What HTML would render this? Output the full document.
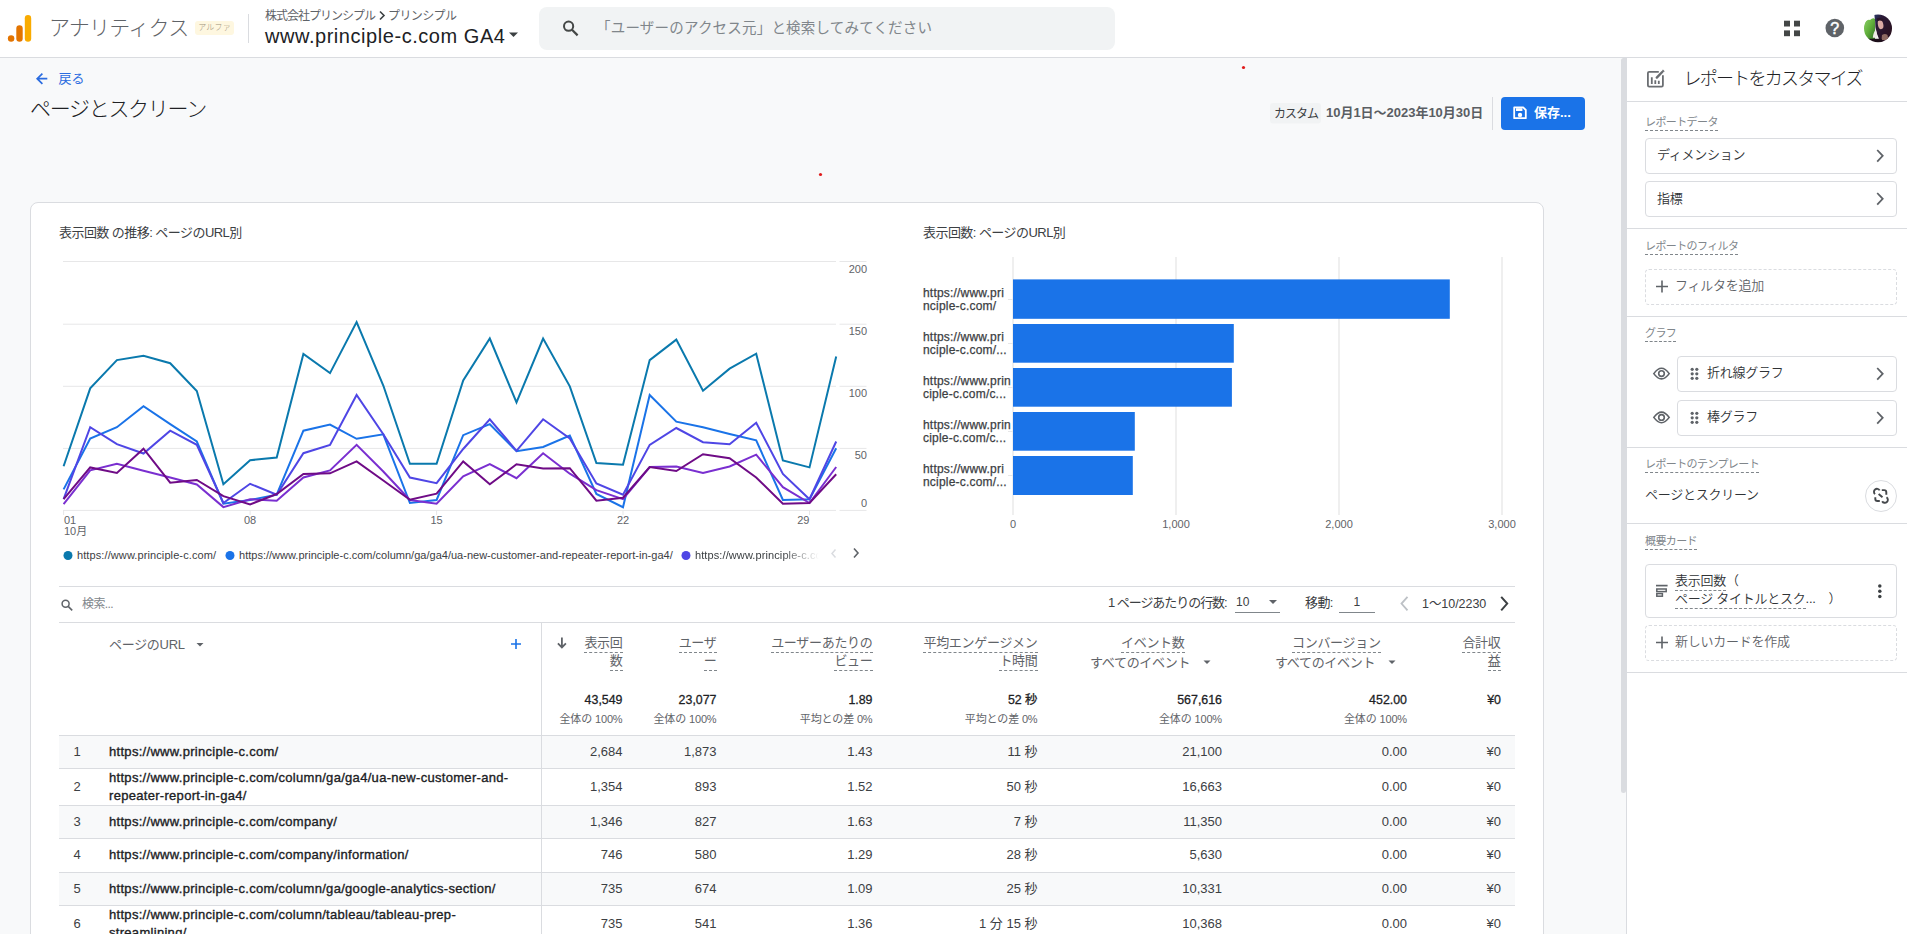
<!DOCTYPE html>
<html lang="ja">
<head>
<meta charset="utf-8">
<title>ページとスクリーン</title>
<style>
*{box-sizing:border-box;margin:0;padding:0}
html,body{width:1907px;height:934px;overflow:hidden;background:#f8f9fa;
  font-family:"Liberation Sans","Noto Sans CJK JP",sans-serif;color:#202124;font-size:13px;line-height:1}
.abs{position:absolute;white-space:nowrap}
#hdr{position:absolute;left:0;top:0;width:1907px;height:58px;background:#fff;border-bottom:1px solid #dadce0}
#main{position:absolute;left:0;top:58px;width:1627px;height:876px;background:#f8f9fa;overflow:hidden}
#panel{position:absolute;left:1626px;top:58px;width:281px;height:876px;background:#fff;border-left:1px solid #dadce0}
#card{position:absolute;left:30px;top:202px;width:1514px;height:760px;background:#fff;border:1px solid #dadce0;border-radius:8px}
svg{position:absolute;left:0;top:0;overflow:visible}
.t{position:absolute;white-space:nowrap}

#tbl .ln{position:absolute;left:59px;width:1456px;height:1px;background:#dadce0}
#tbl .row{position:absolute;left:59px;width:1456px;border-top:1px solid #dadce0}
#tbl .vl{position:absolute;left:541px;top:622px;width:1px;height:320px;background:#dadce0}
.num{font-size:13px;color:#3c4043;line-height:16px}
.url{font-size:13px;color:#202124;line-height:16px;font-weight:normal;letter-spacing:0.3px;-webkit-text-stroke:0.35px #202124}
.val{font-size:13px;color:#3c4043;line-height:16px;text-align:right}
.tot{font-size:12.4px;color:#202124;line-height:16px;text-align:right;font-weight:normal;letter-spacing:0;-webkit-text-stroke:0.28px #202124}
.sub{font-size:11px;color:#5f6368;line-height:14px;text-align:right;letter-spacing:-0.15px}
.hd{font-size:13px;color:#5f6368;line-height:17px;letter-spacing:-0.3px}
.u{border-bottom:1px dashed #80868b;padding-bottom:1px}
.r{text-align:right}
.pl{position:absolute;left:1627px;width:280px;height:1px;background:#dadce0}
.bx{position:absolute;border:1px solid #dadce0;border-radius:4px;background:#fff}
.bx.ds{border-style:dashed}
.lb{font-size:11px;color:#80868b;line-height:14px;padding-bottom:1px;letter-spacing:-0.6px;border-bottom:1px dashed #80868b}
.it{font-size:13px;font-weight:350;color:#303336;line-height:18px;letter-spacing:-0.25px}
.u2{border-bottom:1px dashed #80868b;padding-bottom:2px}
</style>
</head>
<body>
<!--HEADER-->
<div id="hdr">
</div>
<svg width="1907" height="58" viewBox="0 0 1907 58">
  <!-- GA logo -->
  <rect x="24.8" y="15" width="6.4" height="26.7" rx="3.2" fill="#f9ab00"/>
  <rect x="16.3" y="25.2" width="6.4" height="16.5" rx="3.2" fill="#e37400"/>
  <circle cx="11.1" cy="38.4" r="3.25" fill="#e37400"/>
  <!-- divider -->
  <rect x="248" y="14" width="1" height="29" fill="#dadce0"/>
  <!-- caret -->
  <path d="M509 32.5 l4.5 4.5 l4.5 -4.5z" fill="#3c4043"/>
  <!-- breadcrumb chevron -->
  <path d="M380 11.5 l4 4 l-4 4" fill="none" stroke="#3c4043" stroke-width="1.6"/>
  <!-- search box -->
  <rect x="539" y="7" width="576" height="43" rx="8" fill="#f1f3f4"/>
  <circle cx="568.6" cy="26.2" r="4.6" fill="none" stroke="#444746" stroke-width="2"/>
  <path d="M572 29.8 l5.6 5.6" stroke="#444746" stroke-width="2.2" stroke-linecap="butt"/>
  <!-- apps grid -->
  <g fill="#444746">
    <rect x="1784" y="20.7" width="6" height="5.8"/><rect x="1794" y="20.7" width="6" height="5.8"/>
    <rect x="1784" y="30.4" width="6" height="5.8"/><rect x="1794" y="30.4" width="6" height="5.8"/>
  </g>
  <!-- help -->
  <circle cx="1834.8" cy="28" r="9.3" fill="#5f6368"/>
  <text x="1834.8" y="33.6" text-anchor="middle" font-family="Liberation Sans, sans-serif" font-size="16" fill="#fff" stroke="#fff" stroke-width="0.5">?</text>
  <!-- avatar -->
  <defs><clipPath id="av"><circle cx="1878" cy="28.4" r="14"/></clipPath>
  <linearGradient id="avg" x1="0" x2="1" y1="0" y2="1"><stop offset="0" stop-color="#8fd06a"/><stop offset="0.5" stop-color="#5fae3a"/><stop offset="1" stop-color="#2f6a24"/></linearGradient>
  <linearGradient id="avh" x1="0" x2="1" y1="0" y2="1"><stop offset="0" stop-color="#2d3a6a"/><stop offset="0.25" stop-color="#2a1a38"/><stop offset="1" stop-color="#2a0f18"/></linearGradient></defs>
  <g clip-path="url(#av)">
    <rect x="1864" y="14" width="28" height="29" fill="#ffffff"/>
    <path d="M1864 40 V24 q3 -5 6 -4 q3 -3 5 -1 V40z" fill="url(#avg)"/>
    <path d="M1874.3 14 H1892 V43 H1880 q-1 -5 -3.5 -10 q-1.6 -6 -1.4 -12 q-0.6 -4 -0.8 -7z" fill="url(#avh)"/>
    <ellipse cx="1880.6" cy="24.6" rx="2.7" ry="4.6" fill="#d9aaa4" transform="rotate(-12 1880.6 24.6)"/>
    <path d="M1876.6 18.5 q3 -1.4 6.6 0.6 l0 2.4 q-3 -1.6 -6 -0.4z" fill="#2a1428"/>
    <path d="M1872.8 37.8 q0.4 -5.5 3.2 -8.2 q1 3 1.6 8.2z" fill="#eeeae6"/>
    <path d="M1882 35 q3 -2 5.5 0 l1 5 h-7z" fill="#8d6a62"/>
    <path d="M1864 38.8 h17.6 l1.4 3.7 H1864z" fill="#1d0f1a"/>
  </g>
</svg>
<div class="t" style="left:49px;top:15px;font-size:21px;font-weight:300;color:#5f6368;letter-spacing:-0.75px;line-height:26px">アナリティクス</div>
<div class="t" style="left:195px;top:21px;width:39px;height:14px;background:#fef7e0;border-radius:3px;font-size:8px;font-weight:300;color:#a09078;text-align:center;line-height:13px;letter-spacing:0.2px">アルファ</div>
<div class="t" style="left:265px;top:8px;font-size:12px;color:#5f6368;line-height:16px;letter-spacing:-1px">株式会社プリンシプル</div>
<div class="t" style="left:388px;top:8px;font-size:12px;color:#5f6368;line-height:16px;letter-spacing:-0.6px">プリンシプル</div>
<div class="t" style="left:265px;top:23.5px;font-size:20px;color:#202124;line-height:24px;letter-spacing:0.55px">www.principle-c.com GA4</div>
<div class="t" style="left:596px;top:18px;font-size:14.5px;color:#80868b;line-height:20px;letter-spacing:0.2px">「ユーザーのアクセス元」と検索してみてください</div>
<!--MAIN-->
<div id="main">
</div>
<svg width="1627" height="200" viewBox="0 0 1627 200">
  <!-- back arrow -->
  <path d="M47.3 78.7 H37.6 M42.4 73.6 L37.2 78.7 L42.4 83.8" fill="none" stroke="#2b6ce0" stroke-width="1.7"/>
  <!-- red dots -->
  <circle cx="1243.5" cy="67.5" r="1.6" fill="#e01b1b"/>
  <circle cx="820.5" cy="174.5" r="1.6" fill="#e01b1b"/>
  <!-- date chip -->
  <rect x="1270" y="103" width="51" height="20.5" rx="3" fill="#f1f3f4"/>
  <rect x="1492" y="97" width="1" height="33" fill="#dadce0"/>
  <!-- save button -->
  <rect x="1501" y="97" width="84" height="33" rx="4" fill="#1a73e8"/>
  <path d="M1514.2 107.4 h9 l2.6 2.6 v8.2 h-11.6z" fill="none" stroke="#fff" stroke-width="1.8" stroke-linejoin="round"/>
  <rect x="1516" y="108.2" width="6.4" height="2.8" fill="#fff"/>
  <circle cx="1520" cy="114.9" r="2.2" fill="#fff"/>
</svg>
<div class="t" style="left:58.5px;top:71px;font-size:13px;color:#2b6ce0;line-height:16px">戻る</div>
<div class="t" style="left:30px;top:96px;font-size:21px;font-weight:300;color:#202124;line-height:26px;letter-spacing:-1.3px">ページとスクリーン</div>
<div class="t" style="left:1274px;top:106px;font-size:12px;color:#3c4043;line-height:16px;letter-spacing:-1px">カスタム</div>
<div class="t" style="left:1326px;top:105px;font-size:13px;font-weight:bold;color:#5a5e63;line-height:16px;letter-spacing:-0.02px">10月1日～2023年10月30日</div>
<div class="t" style="left:1534px;top:105px;font-size:13px;font-weight:bold;color:#fff;line-height:16px">保存...</div>
<div id="card"></div>
<!--CHARTS-->
<svg width="1560" height="934" viewBox="0 0 1560 934" font-family="Liberation Sans, Noto Sans CJK JP, sans-serif" font-size="11" fill="#5f6368">
<rect x="63" y="261.0" width="773" height="1" fill="#e7e7e8"/><rect x="839.5" y="261.0" width="27" height="1" fill="#e7e7e8"/>
<rect x="63" y="323.7" width="773" height="1" fill="#e7e7e8"/><rect x="839.5" y="323.7" width="27" height="1" fill="#e7e7e8"/>
<rect x="63" y="385.8" width="773" height="1" fill="#e7e7e8"/><rect x="839.5" y="385.8" width="27" height="1" fill="#e7e7e8"/>
<rect x="63" y="447.9" width="773" height="1" fill="#e7e7e8"/><rect x="839.5" y="447.9" width="27" height="1" fill="#e7e7e8"/>
<rect x="63" y="509.9" width="773" height="1" fill="#e7e7e8"/><rect x="839.5" y="509.9" width="27" height="1" fill="#e7e7e8"/>
<rect x="63.1" y="510" width="1" height="5" fill="#e7e7e8"/>
<rect x="249.6" y="510" width="1" height="5" fill="#e7e7e8"/>
<rect x="436.1" y="510" width="1" height="5" fill="#e7e7e8"/>
<rect x="622.5" y="510" width="1" height="5" fill="#e7e7e8"/>
<rect x="809.0" y="510" width="1" height="5" fill="#e7e7e8"/>
<polyline points="63.6,466.2 90.2,388.4 116.9,360.1 143.5,355.7 170.2,363.2 196.8,391.0 223.4,484.2 250.1,460.2 276.7,457.6 303.4,354.0 330.0,373.1 356.6,322.0 383.3,385.5 409.9,463.8 436.6,463.8 463.2,380.4 489.8,338.5 516.5,402.4 543.1,338.5 569.8,386.3 596.4,463.0 623.0,464.7 649.7,360.1 676.3,339.6 703.0,390.7 729.6,368.7 756.2,353.7 782.9,460.5 809.5,467.4 836.2,356.4" fill="none" stroke="#0a79ad" stroke-width="2" stroke-linejoin="miter"/>
<polyline points="63.6,489.4 90.2,438.5 116.9,427.2 143.5,406.2 170.2,424.2 196.8,441.5 223.4,503.7 250.1,500.0 276.7,494.7 303.4,430.7 330.0,424.5 356.6,438.8 383.3,434.3 409.9,503.0 436.6,500.0 463.2,435.2 489.8,424.2 516.5,451.2 543.1,447.0 569.8,435.5 596.4,494.0 623.0,507.2 649.7,395.0 676.3,421.7 703.0,427.2 729.6,434.0 756.2,440.4 782.9,500.0 809.5,499.2 836.2,448.2" fill="none" stroke="#1a73e8" stroke-width="2" stroke-linejoin="miter"/>
<polyline points="63.6,499.2 90.2,427.2 116.9,444.2 143.5,453.5 170.2,430.7 196.8,444.8 223.4,503.0 250.1,483.8 276.7,494.7 303.4,453.2 330.0,444.9 356.6,395.0 383.3,434.3 409.9,477.5 436.6,483.2 463.2,449.0 489.8,419.3 516.5,450.8 543.1,419.3 569.8,438.5 596.4,483.5 623.0,494.7 649.7,444.9 676.3,428.0 703.0,442.2 729.6,444.2 756.2,422.7 782.9,474.0 809.5,499.2 836.2,441.5" fill="none" stroke="#4f46e5" stroke-width="2" stroke-linejoin="miter"/>
<polyline points="63.6,504.1 90.2,470.4 116.9,463.7 143.5,470.7 170.2,477.5 196.8,484.5 223.4,507.1 250.1,499.2 276.7,500.7 303.4,477.5 330.0,470.4 356.6,444.9 383.3,471.5 409.9,500.0 436.6,503.7 463.2,476.4 489.8,464.0 516.5,478.2 543.1,453.2 569.8,473.7 596.4,490.2 623.0,499.2 649.7,467.0 676.3,466.5 703.0,473.0 729.6,466.5 756.2,454.7 782.9,487.2 809.5,503.0 836.2,467.0" fill="none" stroke="#7a2fd0" stroke-width="2" stroke-linejoin="miter"/>
<polyline points="63.6,499.2 90.2,467.4 116.9,473.0 143.5,448.7 170.2,482.7 196.8,480.0 223.4,496.2 250.1,504.4 276.7,494.0 303.4,474.0 330.0,473.3 356.6,461.4 383.3,480.5 409.9,499.7 436.6,493.7 463.2,461.4 489.8,484.2 516.5,464.3 543.1,468.5 569.8,468.2 596.4,500.7 623.0,497.7 649.7,467.0 676.3,471.0 703.0,454.2 729.6,458.3 756.2,477.5 782.9,503.7 809.5,503.0 836.2,474.2" fill="none" stroke="#6f0b86" stroke-width="2" stroke-linejoin="miter"/>
<g><text x="867" y="272.8" text-anchor="end">200</text><text x="867" y="334.9" text-anchor="end">150</text><text x="867" y="397.3" text-anchor="end">100</text><text x="867" y="459.0" text-anchor="end">50</text><text x="867" y="507.2" text-anchor="end">0</text></g>
<g><text x="64" y="524.3">01</text><text x="64" y="534.7">10月</text><text x="250.1" y="524.3" text-anchor="middle">08</text><text x="436.6" y="524.3" text-anchor="middle">15</text><text x="623" y="524.3" text-anchor="middle">22</text><text x="809.5" y="524.3" text-anchor="end">29</text></g>
<!-- legend -->
<circle cx="68" cy="555.5" r="4.5" fill="#0a79ad"/><circle cx="230" cy="555.5" r="4.5" fill="#1a73e8"/><circle cx="686" cy="555.5" r="4.5" fill="#4f46e5"/>
<path d="M835.5 549.5 l-3.5 4 l3.5 4" fill="none" stroke="#dadce0" stroke-width="1.5"/>
<path d="M854 548.5 l4 4.5 l-4 4.5" fill="none" stroke="#5f6368" stroke-width="1.6"/>
<!-- bar chart -->
<g fill="#e0e0e0"><rect x="1012.5" y="257" width="1" height="258"/><rect x="1175.5" y="257" width="1" height="258"/><rect x="1338.5" y="257" width="1" height="258"/><rect x="1501.5" y="257" width="1" height="258"/></g>
<g fill="#e7e7e8"><rect x="1008" y="299" width="5" height="1"/><rect x="1008" y="343" width="5" height="1"/><rect x="1008" y="387" width="5" height="1"/><rect x="1008" y="431" width="5" height="1"/><rect x="1008" y="475" width="5" height="1"/></g>
<g fill="#1a73e8"><rect x="1013" y="279.4" width="436.8" height="39.4"/><rect x="1013" y="324" width="220.8" height="38.7"/><rect x="1013" y="368" width="218.9" height="38.7"/><rect x="1013" y="412" width="121.8" height="38.7"/><rect x="1013" y="456" width="119.8" height="39"/></g>
<g text-anchor="middle"><text x="1013" y="528">0</text><text x="1176" y="528">1,000</text><text x="1339" y="528">2,000</text><text x="1502" y="528">3,000</text></g>
<g font-size="12" fill="#3c4043" style="letter-spacing:0.2px" stroke="#3c4043" stroke-width="0.25">
<text x="923" y="296.5">https://www.pri</text><text x="923" y="309.5">nciple-c.com/</text>
<text x="923" y="340.5">https://www.pri</text><text x="923" y="353.5">nciple-c.com/...</text>
<text x="923" y="384.5">https://www.prin</text><text x="923" y="397.5">ciple-c.com/c...</text>
<text x="923" y="428.5">https://www.prin</text><text x="923" y="441.5">ciple-c.com/c...</text>
<text x="923" y="472.5">https://www.pri</text><text x="923" y="485.5">nciple-c.com/...</text>
</g>
</svg>
<div class="t" style="left:59px;top:225px;font-size:13px;color:#3c4043;line-height:16px;letter-spacing:-0.55px">表示回数 の推移: ページのURL別</div>
<div class="t" style="left:923px;top:225px;font-size:13px;color:#3c4043;line-height:16px;letter-spacing:-0.55px">表示回数: ページのURL別</div>
<div class="t" style="left:77px;top:549px;font-size:11px;color:#3c4043;line-height:13px;letter-spacing:0.1px">https://www.principle-c.com/</div>
<div class="t" style="left:239px;top:549px;font-size:11px;color:#3c4043;line-height:13px;letter-spacing:0.01px">https://www.principle-c.com/column/ga/ga4/ua-new-customer-and-repeater-report-in-ga4/</div>
<div class="t" style="left:695px;top:549px;font-size:11px;color:#3c4043;line-height:13px;letter-spacing:0.1px;width:124px;overflow:hidden;-webkit-mask-image:linear-gradient(90deg,#000 70%,transparent 100%)">https://www.principle-c.com/c</div>
<!--/CHARTS-->
<!--TABLE-->
<div id="tbl">
<div class="ln" style="top:586px"></div><div class="ln" style="top:622px"></div>
<div class="row" style="top:735px;height:33px;background:#f8f9fa"></div>
<div class="t num" style="left:67px;width:20px;top:744.0px;text-align:center">1</div>
<div class="t url" style="left:109px;top:744.0px">https://www.principle-c.com/</div>
<div class="t val" style="left:502.5px;width:120px;top:744.0px">2,684</div>
<div class="t val" style="left:596.5px;width:120px;top:744.0px">1,873</div>
<div class="t val" style="left:752.5px;width:120px;top:744.0px">1.43</div>
<div class="t val" style="left:917.5px;width:120px;top:744.0px">11 秒</div>
<div class="t val" style="left:1102px;width:120px;top:744.0px">21,100</div>
<div class="t val" style="left:1287px;width:120px;top:744.0px">0.00</div>
<div class="t val" style="left:1381px;width:120px;top:744.0px">¥0</div>
<div class="row" style="top:768px;height:37px;background:#fff"></div>
<div class="t num" style="left:67px;width:20px;top:779.0px;text-align:center">2</div>
<div class="t url" style="left:109px;top:770.0px">https://www.principle-c.com/column/ga/ga4/ua-new-customer-and-</div>
<div class="t url" style="left:109px;top:788.0px">repeater-report-in-ga4/</div>
<div class="t val" style="left:502.5px;width:120px;top:779.0px">1,354</div>
<div class="t val" style="left:596.5px;width:120px;top:779.0px">893</div>
<div class="t val" style="left:752.5px;width:120px;top:779.0px">1.52</div>
<div class="t val" style="left:917.5px;width:120px;top:779.0px">50 秒</div>
<div class="t val" style="left:1102px;width:120px;top:779.0px">16,663</div>
<div class="t val" style="left:1287px;width:120px;top:779.0px">0.00</div>
<div class="t val" style="left:1381px;width:120px;top:779.0px">¥0</div>
<div class="row" style="top:805px;height:33px;background:#f8f9fa"></div>
<div class="t num" style="left:67px;width:20px;top:814.0px;text-align:center">3</div>
<div class="t url" style="left:109px;top:814.0px">https://www.principle-c.com/company/</div>
<div class="t val" style="left:502.5px;width:120px;top:814.0px">1,346</div>
<div class="t val" style="left:596.5px;width:120px;top:814.0px">827</div>
<div class="t val" style="left:752.5px;width:120px;top:814.0px">1.63</div>
<div class="t val" style="left:917.5px;width:120px;top:814.0px">7 秒</div>
<div class="t val" style="left:1102px;width:120px;top:814.0px">11,350</div>
<div class="t val" style="left:1287px;width:120px;top:814.0px">0.00</div>
<div class="t val" style="left:1381px;width:120px;top:814.0px">¥0</div>
<div class="row" style="top:838px;height:34px;background:#fff"></div>
<div class="t num" style="left:67px;width:20px;top:846.7px;text-align:center">4</div>
<div class="t url" style="left:109px;top:846.7px">https://www.principle-c.com/company/information/</div>
<div class="t val" style="left:502.5px;width:120px;top:846.7px">746</div>
<div class="t val" style="left:596.5px;width:120px;top:846.7px">580</div>
<div class="t val" style="left:752.5px;width:120px;top:846.7px">1.29</div>
<div class="t val" style="left:917.5px;width:120px;top:846.7px">28 秒</div>
<div class="t val" style="left:1102px;width:120px;top:846.7px">5,630</div>
<div class="t val" style="left:1287px;width:120px;top:846.7px">0.00</div>
<div class="t val" style="left:1381px;width:120px;top:846.7px">¥0</div>
<div class="row" style="top:872px;height:33px;background:#f8f9fa"></div>
<div class="t num" style="left:67px;width:20px;top:881.0px;text-align:center">5</div>
<div class="t url" style="left:109px;top:881.0px">https://www.principle-c.com/column/ga/google-analytics-section/</div>
<div class="t val" style="left:502.5px;width:120px;top:881.0px">735</div>
<div class="t val" style="left:596.5px;width:120px;top:881.0px">674</div>
<div class="t val" style="left:752.5px;width:120px;top:881.0px">1.09</div>
<div class="t val" style="left:917.5px;width:120px;top:881.0px">25 秒</div>
<div class="t val" style="left:1102px;width:120px;top:881.0px">10,331</div>
<div class="t val" style="left:1287px;width:120px;top:881.0px">0.00</div>
<div class="t val" style="left:1381px;width:120px;top:881.0px">¥0</div>
<div class="row" style="top:905px;height:37px;background:#fff"></div>
<div class="t num" style="left:67px;width:20px;top:916.0px;text-align:center">6</div>
<div class="t url" style="left:109px;top:907.0px">https://www.principle-c.com/column/tableau/tableau-prep-</div>
<div class="t url" style="left:109px;top:925.0px">streamlining/</div>
<div class="t val" style="left:502.5px;width:120px;top:916.0px">735</div>
<div class="t val" style="left:596.5px;width:120px;top:916.0px">541</div>
<div class="t val" style="left:752.5px;width:120px;top:916.0px">1.36</div>
<div class="t val" style="left:917.5px;width:120px;top:916.0px">1 分 15 秒</div>
<div class="t val" style="left:1102px;width:120px;top:916.0px">10,368</div>
<div class="t val" style="left:1287px;width:120px;top:916.0px">0.00</div>
<div class="t val" style="left:1381px;width:120px;top:916.0px">¥0</div>
<div class="vl"></div>
<div class="t tot" style="left:502.5px;width:120px;top:692px">43,549</div>
<div class="t sub" style="left:492.5px;width:130px;top:712px">全体の 100%</div>
<div class="t tot" style="left:596.5px;width:120px;top:692px">23,077</div>
<div class="t sub" style="left:586.5px;width:130px;top:712px">全体の 100%</div>
<div class="t tot" style="left:752.5px;width:120px;top:692px">1.89</div>
<div class="t sub" style="left:742.5px;width:130px;top:712px">平均との差 0%</div>
<div class="t tot" style="left:917.5px;width:120px;top:692px">52 秒</div>
<div class="t sub" style="left:907.5px;width:130px;top:712px">平均との差 0%</div>
<div class="t tot" style="left:1102px;width:120px;top:692px">567,616</div>
<div class="t sub" style="left:1092px;width:130px;top:712px">全体の 100%</div>
<div class="t tot" style="left:1287px;width:120px;top:692px">452.00</div>
<div class="t sub" style="left:1277px;width:130px;top:712px">全体の 100%</div>
<div class="t tot" style="left:1381px;width:120px;top:692px">¥0</div>
</div>
<svg width="1560" height="934" viewBox="0 0 1560 934">
  <!-- table search icon -->
  <circle cx="65.6" cy="603.8" r="3.5" fill="none" stroke="#5f6368" stroke-width="1.5"/>
  <path d="M68.2 606.4 l4 4" stroke="#5f6368" stroke-width="1.6"/>
  <!-- dimension caret -->
  <path d="M196.5 643 l3.5 3.5 l3.5 -3.5z" fill="#5f6368"/>
  <!-- plus -->
  <path d="M511 644 h10 M516 639 v10" stroke="#1a73e8" stroke-width="1.6"/>
  <!-- sort arrow -->
  <path d="M561.9 637.6 v9.8 M557.9 643.4 l4 4 l4 -4" fill="none" stroke="#5f6368" stroke-width="1.8"/>
  <!-- event carets -->
  <path d="M1203.5 660.5 l3.5 3.5 l3.5 -3.5z" fill="#5f6368"/>
  <path d="M1388.5 660.5 l3.5 3.5 l3.5 -3.5z" fill="#5f6368"/>
  <!-- pagination -->
  <path d="M1269 600 l4 4 l4 -4z" fill="#5f6368"/>
  <rect x="1235" y="612" width="45" height="1" fill="#80868b"/>
  <rect x="1339" y="612" width="36" height="1" fill="#80868b"/>
  <path d="M1407.5 596.8 l-6 6.8 l6 6.8" fill="none" stroke="#bdc1c6" stroke-width="1.8"/>
  <path d="M1501.2 596.8 l6 6.8 l-6 6.8" fill="none" stroke="#3c4043" stroke-width="2"/>
</svg>
<div class="t" style="left:82px;top:597px;font-size:12px;color:#80868b;line-height:15px;letter-spacing:-0.6px">検索...</div>
<div class="t" style="left:1108px;top:595px;font-size:13px;color:#3c4043;line-height:16px;letter-spacing:-1.05px">1 ページあたりの行数:</div>
<div class="t" style="left:1236px;top:594.7px;font-size:12px;color:#3c4043;line-height:15px">10</div>
<div class="t" style="left:1305px;top:595px;font-size:13px;color:#3c4043;line-height:16px;letter-spacing:-0.6px">移動:</div>
<div class="t" style="left:1353.5px;top:594.7px;font-size:12px;color:#3c4043;line-height:15px">1</div>
<div class="t" style="left:1422px;top:596px;font-size:12.5px;color:#3c4043;line-height:16px;letter-spacing:-0.05px">1～10/2230</div>
<div class="t hd" style="left:109px;top:636px;">ページのURL</div>
<div class="t hd u r" style="right:1284.5px;top:634px">表示回</div><div class="t hd u r" style="right:1284.5px;top:651.5px">数</div>
<div class="t hd u r" style="right:1190.5px;top:634px">ユーザ</div><div class="t hd u r" style="right:1190.5px;top:651.5px">ー</div>
<div class="t hd u r" style="right:1034.5px;top:634px">ユーザーあたりの</div><div class="t hd u r" style="right:1034.5px;top:651.5px">ビュー</div>
<div class="t hd u r" style="right:869.5px;top:634px">平均エンゲージメン</div><div class="t hd u r" style="right:869.5px;top:651.5px">ト時間</div>
<div class="t hd u" style="left:1121px;top:634px">イベント数</div><div class="t hd" style="left:1090px;top:654px">すべてのイベント</div>
<div class="t hd u" style="left:1292px;top:634px">コンバージョン</div><div class="t hd" style="left:1275px;top:654px">すべてのイベント</div>
<div class="t hd u r" style="right:406.5px;top:634px">合計収</div><div class="t hd u r" style="right:406.5px;top:651.5px">益</div>
<!--/TABLE-->
<!--PANEL-->
<div id="panel">
</div>
<div style="position:absolute;left:1621px;top:58px;width:5px;height:735px;background:#dadce0;border-radius:3px 0 3px 3px"></div>
<div class="pl" style="top:101px"></div><div class="pl" style="top:228px"></div><div class="pl" style="top:316px"></div><div class="pl" style="top:447px"></div><div class="pl" style="top:523px"></div><div class="pl" style="top:672px"></div>
<div class="bx" style="left:1645px;top:138px;width:252px;height:36px"></div>
<div class="bx" style="left:1645px;top:181px;width:252px;height:36px"></div>
<div class="bx ds" style="left:1645px;top:269px;width:252px;height:36px"></div>
<div class="bx" style="left:1677px;top:356px;width:220px;height:36px"></div>
<div class="bx" style="left:1677px;top:400px;width:220px;height:36px"></div>
<div class="bx" style="left:1645px;top:564px;width:252px;height:54px"></div>
<div class="bx ds" style="left:1645px;top:625px;width:252px;height:36px"></div>
<div style="position:absolute;left:1865px;top:480px;width:32px;height:32px;border:1px solid #dadce0;border-radius:50%;background:#fff"></div>
<svg width="1907" height="934" viewBox="0 0 1907 934">
  <!-- customize icon -->
  <path d="M1658.8 71.8 h-9.6 a1.3 1.3 0 0 0 -1.3 1.3 v12.2 a1.3 1.3 0 0 0 1.3 1.3 h12.4 a1.3 1.3 0 0 0 1.3 -1.3 v-10" fill="none" stroke="#6b6e72" stroke-width="1.8"/>
  <path d="M1651.8 77.2 v6.9 M1655.3 80.2 v3.9 M1658.8 80.7 v3.4" stroke="#6b6e72" stroke-width="1.8"/>
  <path d="M1656.8 77.6 l5.4 -5.6" stroke="#6b6e72" stroke-width="2.4" stroke-linecap="round"/>
  <path d="M1662.9 71.3 l0.9 -0.9" stroke="#6b6e72" stroke-width="2.4"/>
  <!-- chevrons -->
  <g fill="none" stroke="#5f6368" stroke-width="1.8">
    <path d="M1877.2 150 l5.5 5.8 l-5.5 5.8"/><path d="M1877.2 193 l5.5 5.8 l-5.5 5.8"/>
    <path d="M1877.2 368 l5.5 5.8 l-5.5 5.8"/><path d="M1877.2 412 l5.5 5.8 l-5.5 5.8"/>
  </g>
  <!-- plus -->
  <path d="M1656 286.5 h12 M1662 280.5 v12" stroke="#5f6368" stroke-width="1.6"/>
  <path d="M1656 642.5 h12 M1662 636.5 v12" stroke="#5f6368" stroke-width="1.6"/>
  <!-- eyes -->
  <g fill="none" stroke="#5f6368" stroke-width="1.5">
    <path d="M1653.8 373.6 q7.7 -10.6 15.4 0 q-7.7 10.6 -15.4 0z" stroke-width="1.6"/><circle cx="1661.5" cy="373.6" r="2.8" stroke-width="1.6"/>
    <path d="M1653.8 417.4 q7.7 -10.6 15.4 0 q-7.7 10.6 -15.4 0z" stroke-width="1.6"/><circle cx="1661.5" cy="417.4" r="2.8" stroke-width="1.6"/>
  </g>
  <!-- drag handles -->
  <g fill="#5f6368">
    <circle cx="1692.2" cy="369.3" r="1.6"/><circle cx="1696.8" cy="369.3" r="1.6"/><circle cx="1692.2" cy="373.8" r="1.6"/><circle cx="1696.8" cy="373.8" r="1.6"/><circle cx="1692.2" cy="378.3" r="1.6"/><circle cx="1696.8" cy="378.3" r="1.6"/>
    <circle cx="1692.2" cy="413.3" r="1.6"/><circle cx="1696.8" cy="413.3" r="1.6"/><circle cx="1692.2" cy="417.8" r="1.6"/><circle cx="1696.8" cy="417.8" r="1.6"/><circle cx="1692.2" cy="422.3" r="1.6"/><circle cx="1696.8" cy="422.3" r="1.6"/>
  </g>
  <!-- unlink icon -->
  <g fill="none" stroke="#45484c" stroke-width="1.9">
    <path d="M1879.6 490.4 a3 3 0 1 0 -4.6 3.7"/>
    <path d="M1881.8 490.1 h2.4 a2.1 2.1 0 0 1 2.1 2.1 v2.5"/>
    <path d="M1875.3 497.2 v1.7 a2.1 2.1 0 0 0 2.1 2.1 h2.4"/>
    <path d="M1886.5 497.3 a3 3 0 1 1 -4.3 3.9"/>
    <path d="M1878.6 493.9 l3.9 3.3"/>
  </g>
  <!-- card icon -->
  <g fill="none" stroke="#5f6368" stroke-width="1.5"><path d="M1656 585.6 h11.6" stroke-width="1.7"/><rect x="1656.8" y="589" width="9.4" height="2.6"/><rect x="1656.8" y="593.6" width="5.6" height="2.6"/></g>
  <!-- kebab -->
  <g fill="#3c4043"><circle cx="1879.8" cy="586" r="1.75"/><circle cx="1879.8" cy="591.2" r="1.75"/><circle cx="1879.8" cy="596.4" r="1.75"/></g>
</svg>
<div class="t" style="left:1683.5px;top:66.5px;font-size:18px;font-weight:300;color:#202124;line-height:24px;letter-spacing:-1.75px">レポートをカスタマイズ</div>
<div class="t lb" style="left:1645px;top:115px">レポートデータ</div>
<div class="t it" style="left:1657px;top:146px">ディメンション</div>
<div class="t it" style="left:1657px;top:190px">指標</div>
<div class="t lb" style="left:1645px;top:239px">レポートのフィルタ</div>
<div class="t it" style="left:1675px;top:277px;color:#5f6368">フィルタを追加</div>
<div class="t lb" style="left:1645px;top:326px">グラフ</div>
<div class="t it" style="left:1707px;top:364px">折れ線グラフ</div>
<div class="t it" style="left:1707px;top:408px">棒グラフ</div>
<div class="t lb" style="left:1645px;top:457px">レポートのテンプレート</div>
<div class="t it" style="left:1645px;top:486px">ページとスクリーン</div>
<div class="t lb" style="left:1645px;top:534px">概要カード</div>
<div class="t it" style="left:1675px;top:572px;line-height:17px"><span class="u2">表示回数</span>（</div>
<div class="t it" style="left:1675px;top:590px;line-height:17px"><span class="u2">ページ タイトルとスク</span>...　）</div>
<div class="t it" style="left:1675px;top:633px;color:#5f6368">新しいカードを作成</div>

</body>
</html>
